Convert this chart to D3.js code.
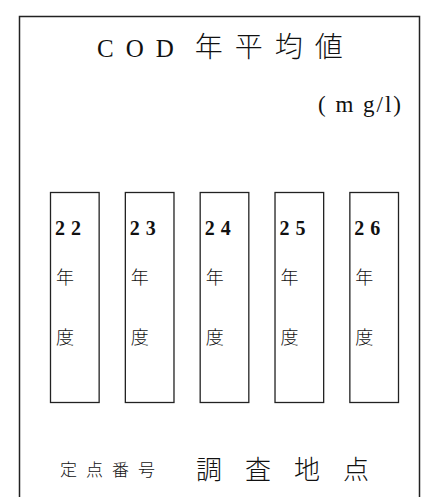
<!DOCTYPE html>
<html lang="ja">
<head>
<meta charset="UTF-8">
<title>COD 年平均値</title>
<style>
    body {
        margin: 0;
        padding: 0;
        background-color: #fff;
    }
    svg text {
        fill: #111;
    }
</style>
</head>
<body>
<svg id="chart" width="432" height="497"></svg>

<script src="https://d3js.org/d3.v7.min.js"></script>
<script>
    // 表示する文字列
    var titleLatin = "COD";
    var titleCjk = "年平均値";
    var unitText = "( m g/l)";
    var years = ["22", "23", "24", "25", "26"];
    var yearChars = ["年", "度"];
    var pointLabel = "定点番号";
    var placeLabel = "調査地点";

    var serif = "'Liberation Serif', 'DejaVu Serif', serif";
    var cjk = "'Noto Sans CJK JP', sans-serif";

    const svg = d3.select("#chart");

    // 外枠
    svg.append("rect")
        .attr("x", 19.5)
        .attr("y", 16.5)
        .attr("width", 400)
        .attr("height", 500)
        .attr("fill", "none")
        .attr("stroke", "#222")
        .attr("stroke-width", 1.5);

    // タイトル
    const title = svg.append("text")
        .attr("x", 97)
        .attr("y", 57)
        .style("letter-spacing", "12px");

    title.append("tspan")
        .style("font-family", serif)
        .style("font-size", "25px")
        .text(titleLatin);

    title.append("tspan")
        .attr("dx", 9)
        .style("font-family", cjk)
        .style("font-size", "28px")
        .style("font-weight", "300")
        .text(titleCjk);

    svg.append("text")
        .attr("x", 318)
        .attr("y", 112)
        .style("font-family", serif)
        .style("font-size", "23px")
        .style("letter-spacing", "2px")
        .text(unitText);

    // 年度の枠
    const xScale = d3.scaleBand()
        .domain(years)
        .range([50, 398])
        .paddingInner(0.35)
        .paddingOuter(0);

    const yScale = d3.scaleLinear()
        .domain([0, 1])
        .range([192, 402]);

    const boxes = svg.selectAll("g.year")
        .data(years)
        .enter()
        .append("g")
        .attr("class", "year")
        .attr("transform", d => "translate(" + xScale(d) + ",0)");

    boxes.append("rect")
        .attr("x", 0.5)
        .attr("y", yScale(0) + 0.5)
        .attr("width", xScale.bandwidth())
        .attr("height", yScale(1) - yScale(0))
        .attr("fill", "none")
        .attr("stroke", "#222")
        .attr("stroke-width", 1.3);

    boxes.append("text")
        .attr("x", 5)
        .attr("y", 235)
        .style("font-family", serif)
        .style("font-size", "20px")
        .style("font-weight", "bold")
        .style("letter-spacing", "6px")
        .text(d => d);

    boxes.selectAll("text.ch")
        .data(yearChars)
        .enter()
        .append("text")
        .attr("class", "ch")
        .attr("x", 6)
        .attr("y", (d, i) => 284 + i * 60)
        .style("font-family", cjk)
        .style("font-size", "18px")
        .style("font-weight", "300")
        .text(d => d);

    // 下の見出し
    svg.append("text")
        .attr("x", 60)
        .attr("y", 476)
        .style("font-family", cjk)
        .style("font-size", "17px")
        .style("font-weight", "300")
        .style("letter-spacing", "9px")
        .text(pointLabel);

    svg.append("text")
        .attr("x", 196)
        .attr("y", 479)
        .style("font-family", cjk)
        .style("font-size", "26px")
        .style("font-weight", "300")
        .style("letter-spacing", "23px")
        .text(placeLabel);
</script>
</body>
</html>
